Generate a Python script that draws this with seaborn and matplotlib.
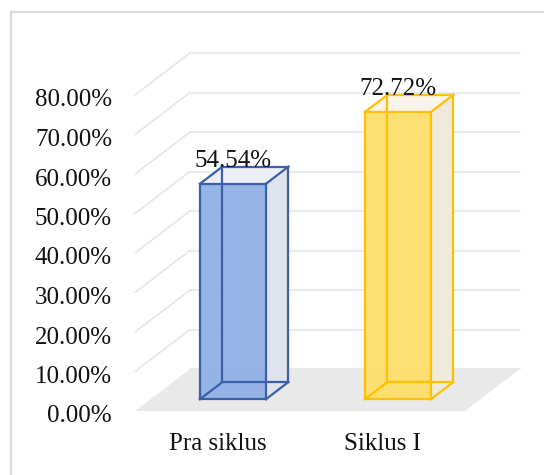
import matplotlib
matplotlib.use("Agg")
import matplotlib.pyplot as plt
import matplotlib.transforms as mtransforms
from matplotlib.patches import Polygon, Rectangle
import seaborn as sns
import pandas as pd

# ---- data ----
categories = ["Pra siklus", "Siklus I"]
values = [54.54, 72.72]
value_labels = ["54.54%", "72.72%"]
y_ticks = [0, 10, 20, 30, 40, 50, 60, 70, 80]
y_tick_labels = ["0.00%", "10.00%", "20.00%", "30.00%", "40.00%",
                 "50.00%", "60.00%", "70.00%", "80.00%"]

front_colors = ["#91b0e4", "#fddf6a"]
edge_colors = ["#3b5fa8", "#ffc000"]
side_colors = ["#dfe3ec", "#efeadb"]
top_colors = ["#eceff5", "#f8f4e8"]

sns.set_theme(style="white")
plt.rcParams["font.family"] = ["Liberation Serif", "DejaVu Serif"]

W, H = 544, 475
fig = plt.figure(figsize=(W / 100, H / 100), dpi=100)
ax = fig.add_axes([135 / W, 64 / H, 330 / W, 316 / H])

df = pd.DataFrame({"cat": categories, "val": values})
sns.barplot(data=df, x="cat", y="val", hue="cat", palette=front_colors,
            width=0.4, legend=False, ax=ax, saturation=1,
            edgecolor="none", zorder=3)
bars = [p for p in ax.patches if isinstance(p, Rectangle)]

ax.set_xlim(-0.5, 1.5)
ax.set_ylim(0, 80)

# depth vector in pixels (display coords, y up)
DX, DY = 55.0, 42.0
D_FRONT, D_BACK = 0.28, 0.69
FS = 18


def proj(x, y, d):
    disp = ax.transData.transform((x, y))
    disp = (disp[0] + DX * d, disp[1] + DY * d)
    return ax.transData.inverted().transform(disp)


grid_c = "#e6e6e6"
# floor
floor = [proj(-0.5, 0, 0), proj(1.5, 0, 0), proj(1.5, 0, 1), proj(-0.5, 0, 1)]
ax.add_patch(Polygon(floor, closed=True, facecolor="#e9e9e9", edgecolor="none",
                     clip_on=False, zorder=0))
# gridlines: back wall and left side wall
for v in y_ticks:
    a, b, c = proj(-0.5, v, 0), proj(-0.5, v, 1), proj(1.5, v, 1)
    if v > 0:
        ax.plot([a[0], b[0]], [a[1], b[1]], color=grid_c, lw=1.2,
                clip_on=False, zorder=0.5)
    ax.plot([b[0], c[0]], [b[1], c[1]], color=grid_c, lw=1.2,
            clip_on=False, zorder=0.5)

front_tr = mtransforms.offset_copy(ax.transData, fig=fig, x=DX * D_FRONT,
                                   y=DY * D_FRONT, units="dots")

for i, p in enumerate(bars):
    x0 = p.get_x()
    w = p.get_width()
    h = p.get_height()
    x1 = x0 + w
    p.set_transform(front_tr)
    p.set_clip_on(False)
    p.set_alpha(0.95)
    ec = edge_colors[i]
    # side face (right)
    side = [proj(x1, 0, D_FRONT), proj(x1, 0, D_BACK),
            proj(x1, h, D_BACK), proj(x1, h, D_FRONT)]
    ax.add_patch(Polygon(side, closed=True, facecolor=side_colors[i],
                         edgecolor="none", clip_on=False, zorder=2))
    top = [proj(x0, h, D_FRONT), proj(x1, h, D_FRONT),
           proj(x1, h, D_BACK), proj(x0, h, D_BACK)]
    ax.add_patch(Polygon(top, closed=True, facecolor=top_colors[i],
                         edgecolor="none", clip_on=False, zorder=2))
    # all 12 edges
    corners = {}
    for xx in (x0, x1):
        for yy in (0, h):
            for dd in (D_FRONT, D_BACK):
                corners[(xx, yy, dd)] = proj(xx, yy, dd)
    edges = []
    for yy in (0, h):
        for dd in (D_FRONT, D_BACK):
            edges.append(((x0, yy, dd), (x1, yy, dd)))
    for xx in (x0, x1):
        for dd in (D_FRONT, D_BACK):
            edges.append(((xx, 0, dd), (xx, h, dd)))
    for xx in (x0, x1):
        for yy in (0, h):
            edges.append(((xx, yy, D_FRONT), (xx, yy, D_BACK)))
    for e0, e1 in edges:
        a, b = corners[e0], corners[e1]
        ax.plot([a[0], b[0]], [a[1], b[1]], color=ec, lw=1.6,
                solid_capstyle="projecting", clip_on=False, zorder=4)
    # value label
    lx = proj(x0 + w / 2, h, D_FRONT)[0]
    ly = proj(x0 + w / 2, h, D_BACK)[1]
    ax.annotate(value_labels[i], (lx, ly), xytext=(0, 4),
                textcoords="offset points", ha="center", va="center",
                fontsize=FS, color="#111111", zorder=5,
                annotation_clip=False)

ax.set_yticks(y_ticks)
ax.set_yticklabels(y_tick_labels)
ax.set_xlabel("")
ax.set_ylabel("")
ax.tick_params(axis="y", length=0, pad=16.5, labelsize=FS, labelcolor="#111111")
ax.tick_params(axis="x", length=0, pad=16, labelsize=FS, labelcolor="#111111")
for lab in ax.get_yticklabels():
    lab.set_transform(lab.get_transform() + mtransforms.Affine2D().translate(0, -3))
for s in ax.spines.values():
    s.set_visible(False)
ax.patch.set_alpha(0)

# outer frame
fig.patches.append(Rectangle((11 / W, -0.1), 1.2, 1 - 12 / H + 0.1,
                             transform=fig.transFigure, fill=False,
                             edgecolor="#d9d9d9", lw=1.6, zorder=0))

fig.savefig("out.png", dpi=100)
